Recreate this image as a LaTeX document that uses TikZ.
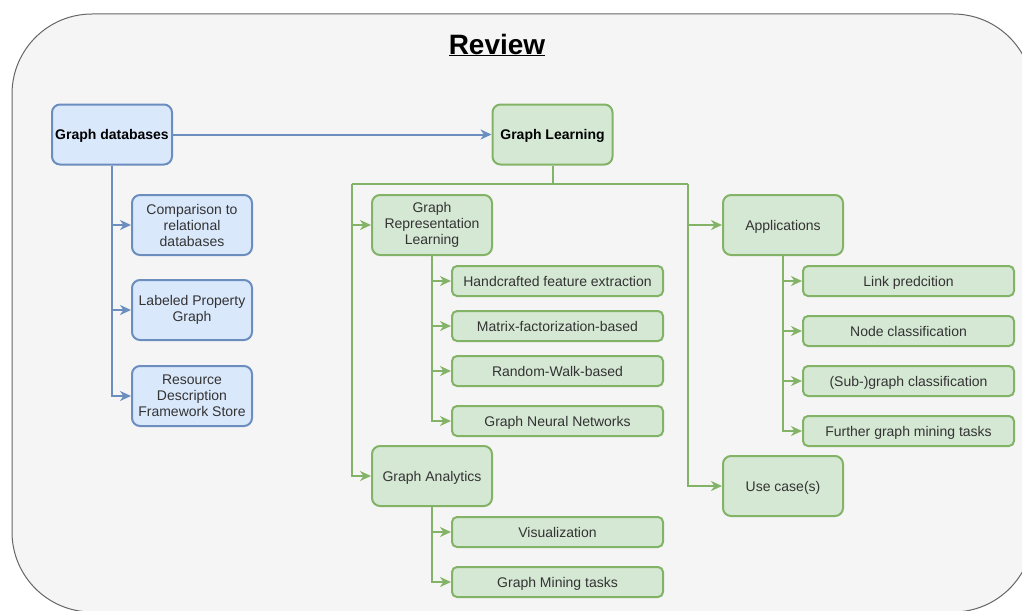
\documentclass[tikz,border=0pt]{standalone}
\usepackage{fontspec}
\setmainfont{Liberation Sans}
\usetikzlibrary{arrows.meta}

\definecolor{bluefill}{HTML}{DAE8FC}
\definecolor{blueline}{HTML}{6C8EBF}
\definecolor{greenfill}{HTML}{D5E8D4}
\definecolor{greenline}{HTML}{82B366}
\definecolor{panelfill}{HTML}{F5F5F5}
\definecolor{panelline}{HTML}{666666}
\definecolor{txt}{HTML}{333333}

\begin{document}
\begin{tikzpicture}[x=1pt,y=-1pt,
        box/.style={draw, line width=2pt, rounded corners=8pt, minimum width=120pt,
            minimum height=60pt, align=center, inner sep=0pt, text=txt,
            font=\fontsize{14}{16}\selectfont},
        oneline/.style={text height=10pt, text depth=0pt},
        bluebox/.style={box, fill=bluefill, draw=blueline},
        greenbox/.style={box, fill=greenfill, draw=greenline},
        leaf/.style={greenbox, oneline, minimum width=211pt, minimum height=30pt, rounded corners=5pt},
        head/.style={oneline, text=black, font=\fontsize{14}{16}\selectfont\bfseries},
        bluearr/.style={draw=blueline, line width=2pt, -{Stealth[length=11pt,width=10pt,inset=3.5pt]}},
        gwire/.style={draw=greenline, line width=2pt},
        greenarr/.style={gwire, -{Stealth[length=11pt,width=10pt,inset=3.5pt]}}]
        \clip (0,0) rectangle (1022,610);
        \fill[white] (0,0) rectangle (1022,610);
        \draw[fill=panelfill, draw=panelline, line width=1pt, rounded corners=80pt] (12,14) rectangle (1033,612);
        \node[font=\fontsize{28}{32}\selectfont\bfseries] (title) at (497,45) {\underline{Review}};

        % graph databases side
        \node[bluebox, head] (gdb) at (112,134.5) {Graph databases};
        \node[bluebox] (cmp) at (192,225) {Comparison to\\relational\\databases};
        \node[bluebox] (lpg) at (192,310) {Labeled Property\\Graph};
        \node[bluebox] (rdf) at (192,396) {Resource\\Description\\Framework Store};

        % graph learning side
        \node[greenbox, head] (gl) at (552.5,134.5) {Graph Learning};
        \node[greenbox] (grl) at (432,225) {Graph\\Representation\\Learning};
        \node[greenbox, oneline] (ga) at (432,476) {Graph Analytics};
        \node[greenbox, oneline] (app) at (783,225) {Applications};
        \node[greenbox, oneline] (uc) at (783,486) {Use case(s)};

        \node[leaf] (hfe) at (557.5,281) {Handcrafted feature extraction};
        \node[leaf] (mfb) at (557.5,326) {Matrix-factorization-based};
        \node[leaf] (rwb) at (557.5,371) {Random-Walk-based};
        \node[leaf] (gnn) at (557.5,421) {Graph Neural Networks};
        \node[leaf] (vis) at (557.5,532) {Visualization};
        \node[leaf] (gmt) at (557.5,582) {Graph Mining tasks};

        \node[leaf] (lp) at (908.5,281) {Link predcition};
        \node[leaf] (nc) at (908.5,331) {Node classification};
        \node[leaf] (sgc) at (908.5,381) {(Sub-)graph classification};
        \node[leaf] (fgm) at (908.5,431) {Further graph mining tasks};

        % connectors
        \draw[bluearr] (gdb) -- (gl);
        \draw[bluearr] (gdb.south) |- (cmp.west);
        \draw[bluearr] (gdb.south) |- (lpg.west);
        \draw[bluearr] (gdb.south) |- (rdf.west);

        \coordinate (split) at (552.5,184);
        \coordinate (lsplit) at (352,184);
        \coordinate (rsplit) at (688,184);
        \draw[gwire] (gl.south) -- (split);
        \draw[gwire] (lsplit) -- (rsplit);
        \draw[greenarr] (lsplit) |- (grl.west);
        \draw[greenarr] (lsplit) |- (ga.west);
        \draw[greenarr] (rsplit) |- (app.west);
        \draw[greenarr] (rsplit) |- (uc.west);

        \draw[greenarr] (grl.south) |- (hfe.west);
        \draw[greenarr] (grl.south) |- (mfb.west);
        \draw[greenarr] (grl.south) |- (rwb.west);
        \draw[greenarr] (grl.south) |- (gnn.west);
        \draw[greenarr] (ga.south) |- (vis.west);
        \draw[greenarr] (ga.south) |- (gmt.west);

        \draw[greenarr] (app.south) |- (lp.west);
        \draw[greenarr] (app.south) |- (nc.west);
        \draw[greenarr] (app.south) |- (sgc.west);
        \draw[greenarr] (app.south) |- (fgm.west);
    \end{tikzpicture}
\end{document}
